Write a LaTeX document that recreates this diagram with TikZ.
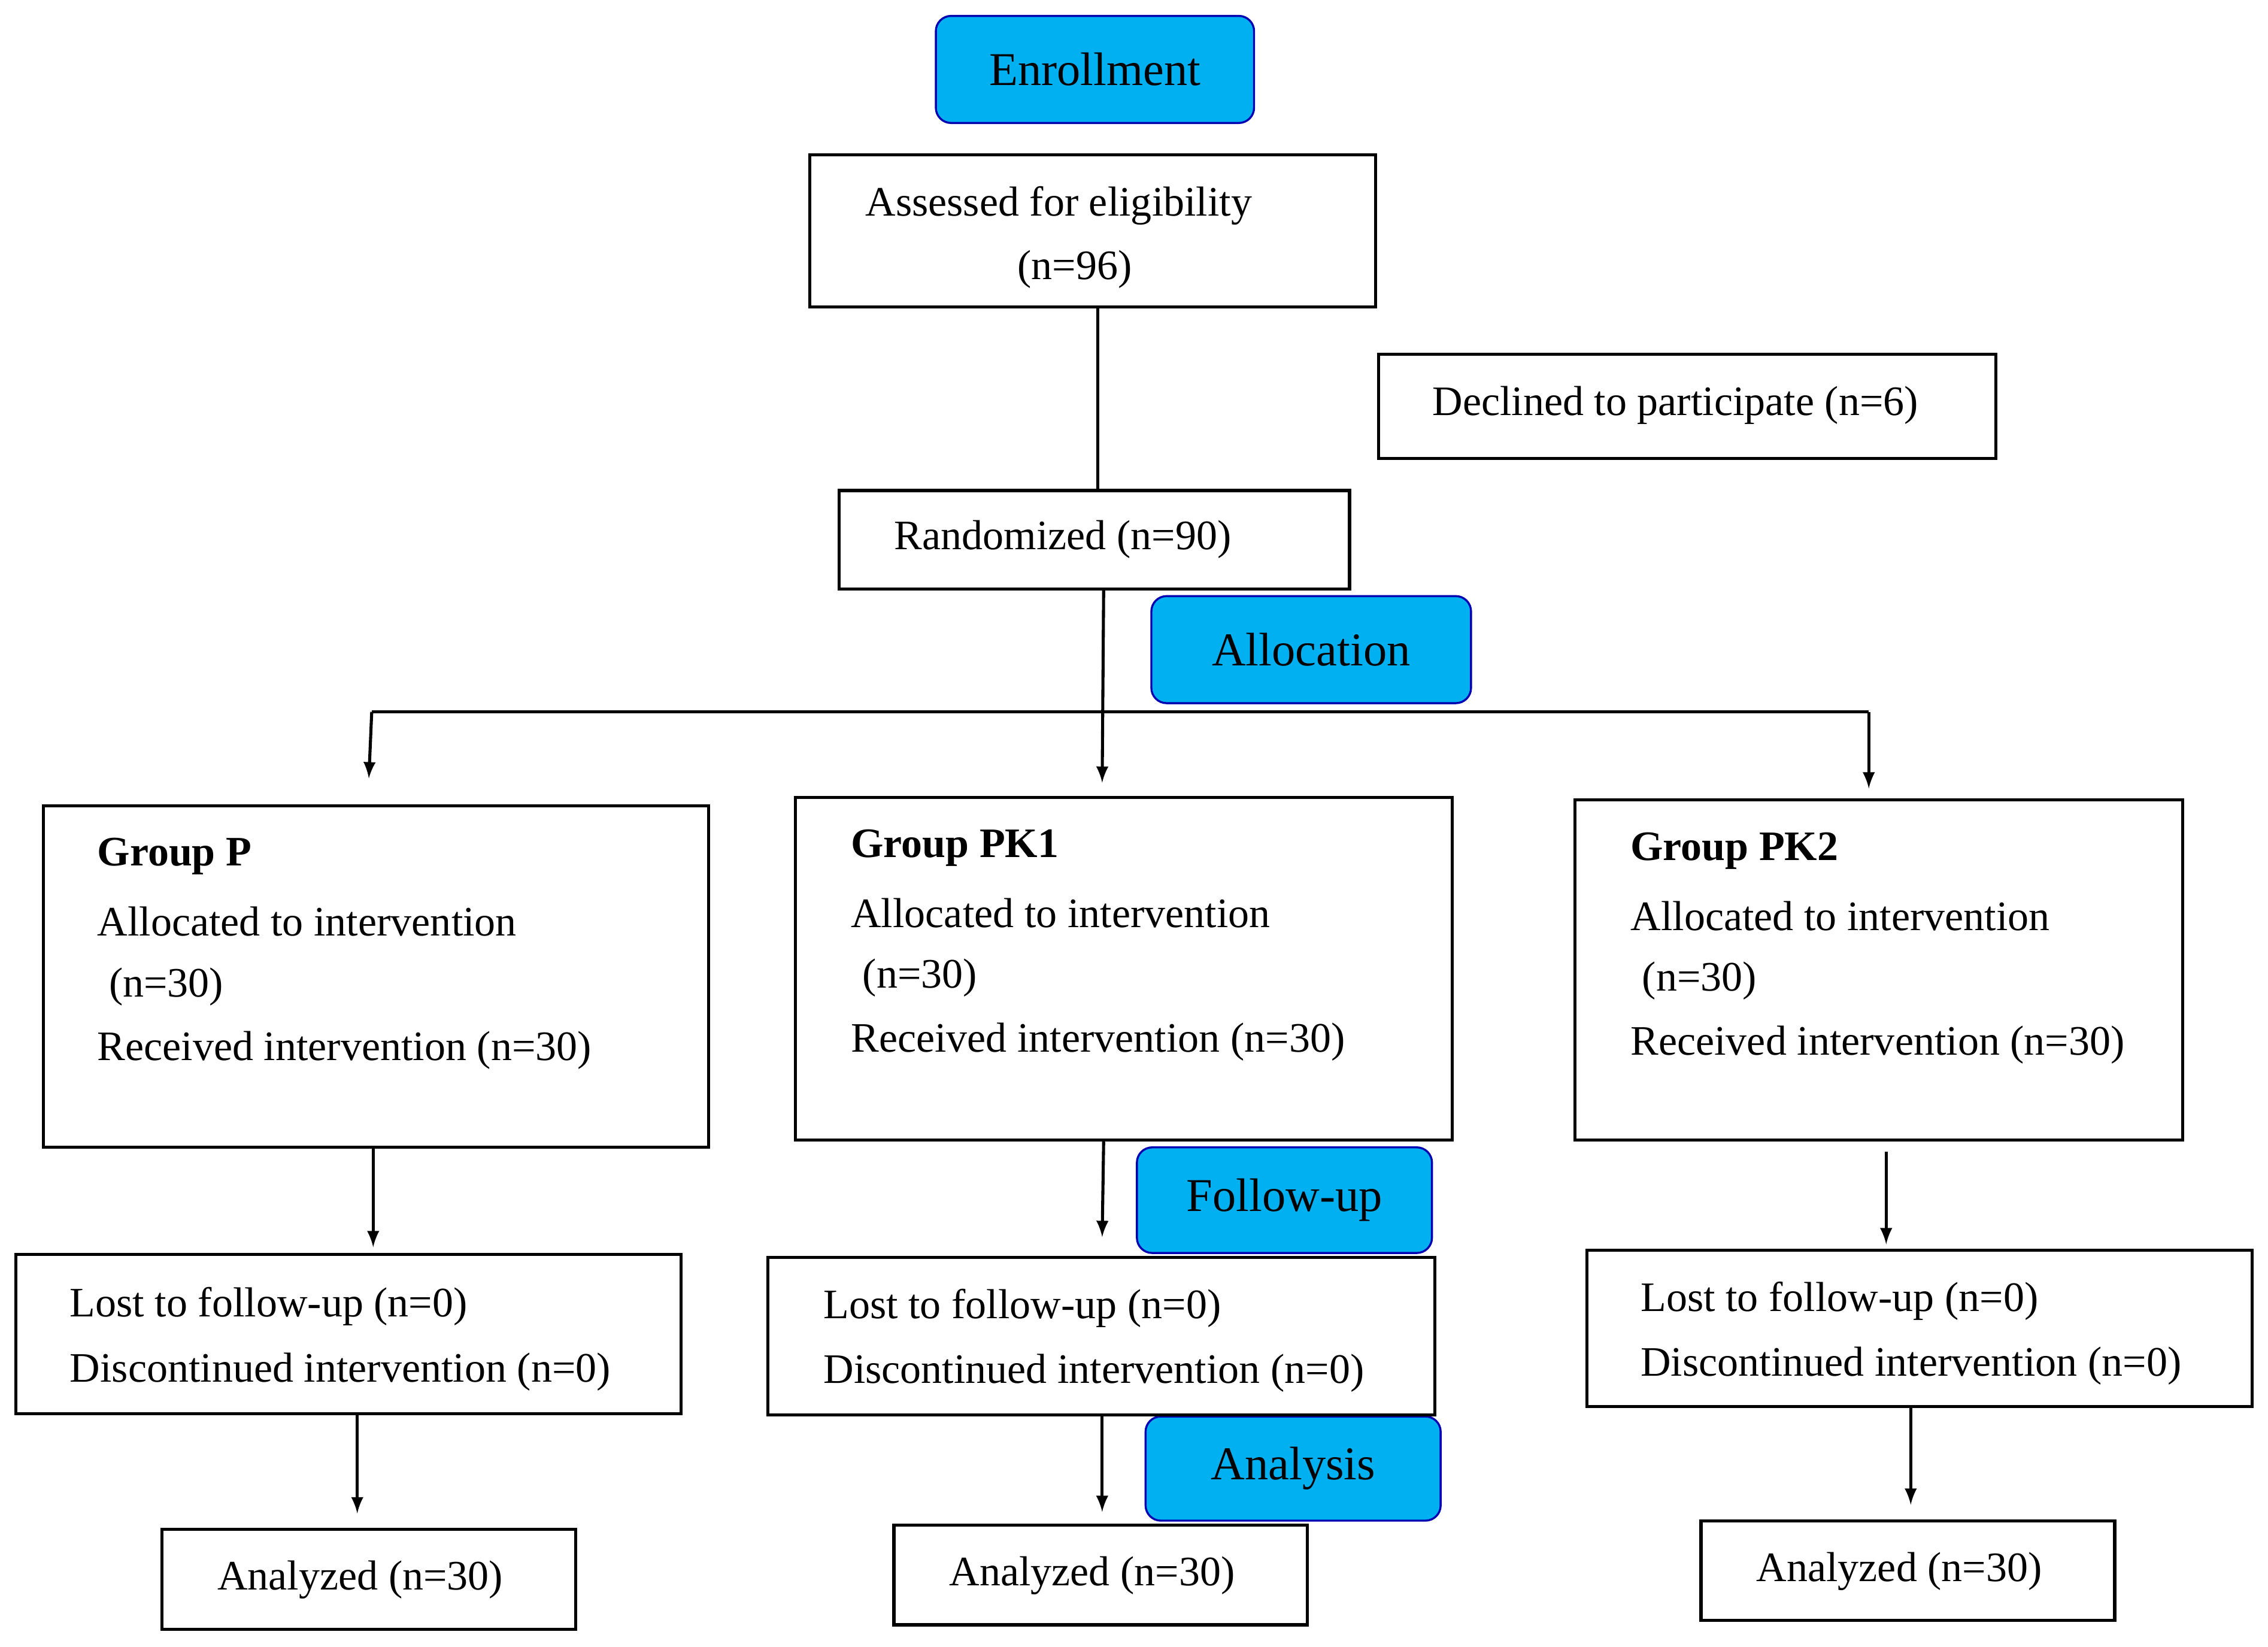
\documentclass[tikz,border=0pt]{standalone}
\usepackage{fontspec}
\setmainfont{Liberation Serif}
\usetikzlibrary{fit}
\tikzset{
  box/.style={draw, line width=1.2pt, inner sep=0pt},
  stage/.style={draw=blue!70!black, fill={rgb,255:red,0;green,176;blue,240}, rounded corners=6pt, line width=0.8pt, inner sep=0pt, font=\fontsize{18.5}{22}\selectfont},
  txt/.style={anchor=west, inner sep=0pt, font=\fontsize{16.5}{20}\selectfont},
  arr/.style={-latex, line width=1.2pt},
  ln/.style={line width=1.2pt}
}
\newcommand{\boxat}[6][box]{%
  \path (#3,#4) coordinate (#2-a) (#5,#6) coordinate (#2-b);
  \node[#1, fit=(#2-a)(#2-b)] (#2) {};}
\begin{document}
\begin{tikzpicture}[x=0.02cm, y=-0.02cm]
\useasboundingbox (0,0) rectangle (1568,1138);
% stage labels
\boxat[stage]{enr}{647}{11}{867}{85}
\boxat[stage]{alloc}{796}{412}{1017}{486}
\boxat[stage]{fup}{786}{793}{990}{866}
\boxat[stage]{anl}{792}{979}{996}{1051}
\node[stage, draw=none, fill=none] at (enr) {Enrollment};
\node[stage, draw=none, fill=none] at (alloc) {Allocation};
\node[stage, draw=none, fill=none] at (fup) {Follow-up};
\node[stage, draw=none, fill=none] at (anl) {Analysis};
% boxes
\boxat{assess}{560}{107}{951}{212}
\boxat{decl}{953}{245}{1380}{317}
\boxat{rand}{580}{339}{933}{407}
\boxat{gp}{30}{557}{490}{793}
\boxat{gk1}{550}{551}{1004}{788}
\boxat{gk2}{1089}{553}{1509}{788}
\boxat{lp}{11}{867}{471}{977}
\boxat{lk1}{531}{869}{992}{978}
\boxat{lk2}{1097}{864}{1557}{972}
\boxat{ap}{112}{1057}{398}{1126}
\boxat{ak1}{618}{1054}{904}{1123}
\boxat{ak2}{1176}{1051}{1462}{1120}
% texts
\node[txt] at (598,142) {Assessed for eligibility};
\node[txt] at (703,186) {(n=96)};
\node[txt] at (990,280) {Declined to participate (n=6)};
\node[txt] at (618,373) {Randomized (n=90)};
\foreach \nm/\X/\Y in {P/67/592, PK1/588/586, PK2/1127/588} {
  \node[txt] at (\X,\Y) {\bfseries Group \nm};
  \node[txt] at (\X,\Y+45) {Allocated to intervention};
  \node[txt] at (\X+8,\Y+90) {(n=30)};
  \node[txt] at (\X,\Y+134) {Received intervention (n=30)};
}
\foreach \X/\Y in {48/903, 569/904, 1134/899} {
  \node[txt] at (\X,\Y) {Lost to follow-up (n=0)};
  \node[txt] at (\X,\Y+45) {Discontinued intervention (n=0)};
}
\node[txt] at (150,1092) {Analyzed (n=30)};
\node[txt] at (656,1089) {Analyzed (n=30)};
\node[txt] at (1214,1086) {Analyzed (n=30)};
% connectors
\coordinate (split) at (763,492);
\coordinate (sl) at (257,492);
\coordinate (sr) at (1292,492);
\draw[ln] (assess.south -| 759,0) -- (rand.north -| 759,0);
\draw[ln] (sl) -- (sr);
\draw[arr] (rand.south -| split) -- (762,541);
\draw[arr] (sl) -- (255,538);
\draw[arr] (sr) -- (1292,545);
\draw[arr] (gp.south -| 258,0) -- (258,862);
\draw[arr] (gk1.south -| 763,0) -- (762,855);
\draw[arr] (gk2.south -| 1304,0) ++(0,7) -- (1304,860);
\draw[arr] (lp.south -| 247,0) -- (247,1046);
\draw[arr] (lk1.south -| 762,0) -- (762,1045);
\draw[arr] (lk2.south -| 1321,0) -- (1321,1040);
\end{tikzpicture}
\end{document}
